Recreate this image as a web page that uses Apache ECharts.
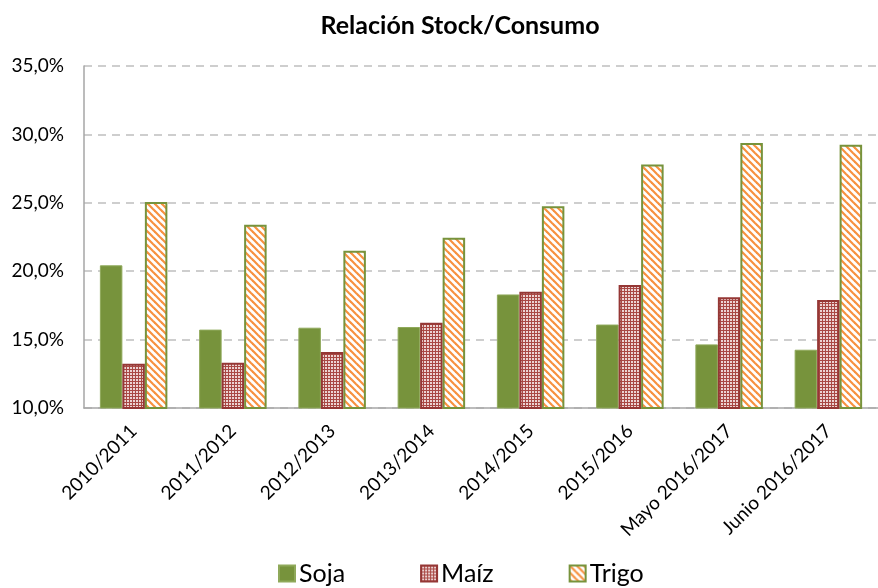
<!DOCTYPE html>
<html>
<head>
<meta charset="utf-8">
<script src="https://cdn.jsdelivr.net/npm/echarts@6/dist/echarts.min.js"></script>
<style>
html,body{margin:0;padding:0;background:#fff;}
#chart{width:878px;height:588px;}
</style>
</head>
<body>
<div id="chart"></div>
<script>
var categories = ['2010/2011','2011/2012','2012/2013','2013/2014','2014/2015','2015/2016','Mayo 2016/2017','Junio 2016/2017'];
var soja = [20.43, 15.73, 15.87, 15.92, 18.3, 16.1, 14.65, 14.26];
var maiz = [13.24, 13.3, 14.1, 16.23, 18.5, 19.0, 18.1, 17.9];
var trigo = [25.06, 23.4, 21.5, 22.45, 24.75, 27.8, 29.37, 29.25];
var yTicks = [10, 15, 20, 25, 30, 35];

function makeChecker() {
  var c = document.createElement('canvas');
  c.width = 3; c.height = 3;
  var g = c.getContext('2d');
  g.fillStyle = '#a94844';
  g.fillRect(0, 0, 3, 3);
  g.fillStyle = '#ecd3d3';
  g.fillRect(1, 1, 2, 2);
  return c;
}
function makeStripes() {
  var c = document.createElement('canvas');
  c.width = 7; c.height = 7;
  var g = c.getContext('2d');
  g.fillStyle = '#ffffff';
  g.fillRect(0, 0, 7, 7);
  g.strokeStyle = '#f7913f';
  g.lineWidth = 2.2;
  for (var k = -7; k <= 7; k += 7) {
    g.beginPath();
    g.moveTo(k - 1, -1);
    g.lineTo(k + 8, 8);
    g.stroke();
  }
  return c;
}

var FONT = 'Lato';
var chart = echarts.init(document.getElementById('chart'), null, {renderer: 'canvas'});
chart.setOption({
  animation: false,
  backgroundColor: '#ffffff',
  title: {
    text: 'Relación Stock/Consumo',
    left: 455, top: 8, textAlign: 'center',
    textStyle: {fontFamily: FONT, fontWeight: 'bold', fontSize: 25, color: '#000'}
  },
  legend: {
    top: 556, left: 273,
    itemWidth: 16, itemHeight: 16, itemGap: 75,
    icon: 'rect',
    textStyle: {fontFamily: FONT, fontSize: 25, color: '#000', padding: [0, 0, 0, -1]},
    data: ['Soja', 'Maíz', 'Trigo']
  },
  grid: {left: 84, right: -10, top: 66, bottom: 180, containLabel: false},
  xAxis: {
    type: 'category',
    data: categories,
    axisLine: {lineStyle: {color: '#a6a6a6', width: 1.5}},
    axisTick: {show: false},
    axisLabel: {rotate: 45, margin: 20, fontFamily: FONT, fontSize: 19, color: '#000', interval: 0}
  },
  yAxis: {
    type: 'value',
    min: yTicks[0], max: yTicks[yTicks.length - 1], interval: 5,
    axisLine: {show: true, lineStyle: {color: '#a6a6a6', width: 1.5}},
    axisTick: {show: false},
    splitLine: {lineStyle: {color: '#bfbfbf', type: [8, 6], width: 1.5}},
    axisLabel: {
      margin: 20, fontFamily: FONT, fontSize: 19, color: '#000',
      formatter: function (v) { return v.toFixed(1).replace('.', ',') + '%'; }
    }
  },
  series: [
    {
      name: 'Soja', type: 'bar', data: soja, barWidth: 22.5, barGap: '0%',
      itemStyle: {color: '#77933c', borderColor: '#8fa95a', borderWidth: 1}
    },
    {
      name: 'Maíz', type: 'bar', data: maiz, barWidth: 22.5, barGap: '0%',
      itemStyle: {color: {image: makeChecker(), repeat: 'repeat'}, borderColor: '#953735', borderWidth: 2}
    },
    {
      name: 'Trigo', type: 'bar', data: trigo, barWidth: 22.5, barGap: '0%',
      itemStyle: {color: {image: makeStripes(), repeat: 'repeat'}, borderColor: '#77933c', borderWidth: 2}
    }
  ]
});
</script>
</body>
</html>
